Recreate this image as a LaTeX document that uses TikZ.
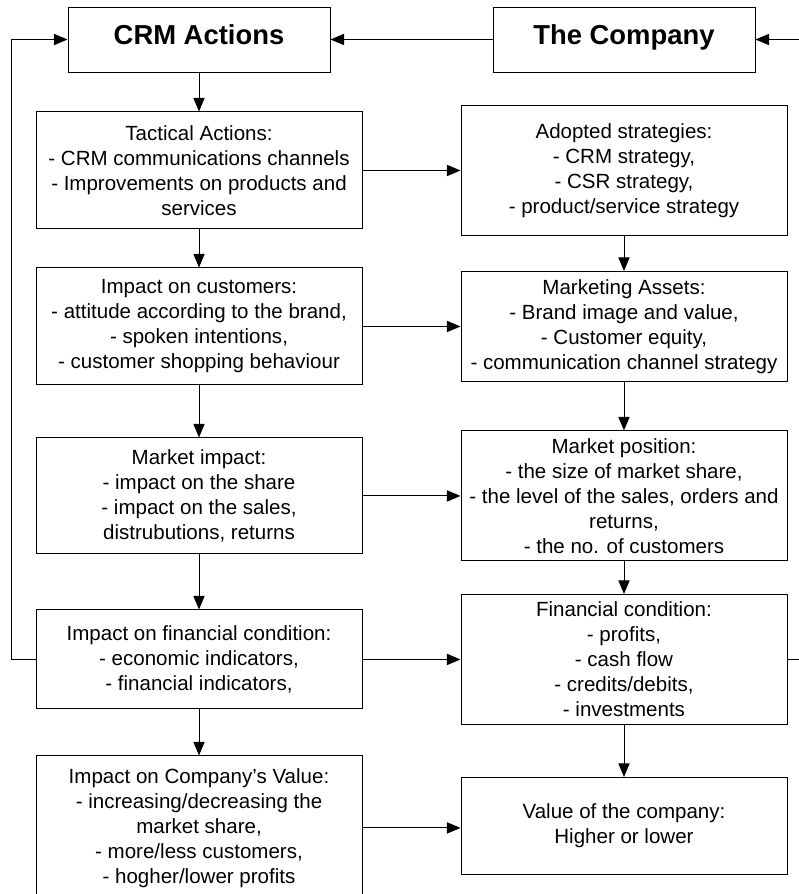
\documentclass[tikz,border=0pt]{standalone}
\usepackage{fontspec}
\setmainfont{Liberation Sans}
\usepackage{tikz}
\usetikzlibrary{positioning,arrows.meta}

\begin{document}
\begin{tikzpicture}[node distance=1cm,
  box/.style={rectangle, draw=black, line width=0.7pt, align=center, minimum width=8.15cm, inner sep=2pt, font=\fontsize{14.6}{17.8}\selectfont},
  head/.style={rectangle, draw=black, line width=0.7pt, minimum width=6.55cm, minimum height=1.625cm, text height=0.8em, text depth=0.1em, font=\fontsize{19.5}{23}\selectfont\bfseries},
  arr/.style={-{Triangle[length=0.34cm,width=0.28cm]}, line width=0.7pt}]
\useasboundingbox (0,0) rectangle (19.95,-22.35);

\node (crm) [head] at (4.975,-0.9875) {CRM Actions};
\node (company) [head, right=4.05cm of crm] {The Company};

% left column
\node (tactical) [box, minimum height=2.925cm, below=0.975cm of crm] {Tactical Actions:\\- CRM communications channels\\- Improvements on products and\\services};
\node (customers) [box, minimum height=2.925cm, below=0.95cm of tactical] {Impact on customers:\\- attitude according to the brand,\\- spoken intentions,\\- customer shopping behaviour};
\node (mktimpact) [box, minimum height=2.9cm, below=1.3cm of customers] {Market impact:\\- impact on the share\\- impact on the sales,\\distrubutions, returns};
\node (finimpact) [box, minimum height=2.475cm, below=1.375cm of mktimpact] {Impact on financial condition:\\- economic indicators,\\- financial indicators,};
\node (valimpact) [box, minimum height=3.6cm, below=1.15cm of finimpact] {Impact on Company’s Value:\\- increasing/decreasing the\\market share,\\- more/less customers,\\- hogher/lower profits};

% right column
\node (strategies) [box, minimum height=3.25cm, right=2.45cm of tactical] {Adopted strategies:\\- CRM strategy,\\- CSR strategy,\\- product/service strategy};
\node (assets) [box, minimum height=2.75cm, right=2.45cm of customers] {Marketing Assets:\\- Brand image and value,\\- Customer equity,\\- communication channel strategy};
\node (position) [box, minimum height=3.25cm, right=2.45cm of mktimpact] {Market position:\\- the size of market share,\\- the level of the sales, orders and\\returns,\\- the no. of customers};
\node (financial) [box, minimum height=3.25cm, right=2.45cm of finimpact] {Financial condition:\\- profits,\\- cash flow\\- credits/debits,\\- investments};
\node (value) [box, minimum height=2.425cm, below=1.3cm of financial] {Value of the company:\\Higher or lower};

\draw[arr] (company) -- (crm);
\draw[arr] (crm) -- (tactical);
\draw[arr] (tactical) -- (customers);
\draw[arr] (customers) -- (mktimpact);
\draw[arr] (mktimpact) -- (finimpact);
\draw[arr] (finimpact) -- (valimpact);

\draw[arr] (strategies) -- (assets);
\draw[arr] (assets) -- (position);
\draw[arr] (position) -- (financial);
\draw[arr] (financial) -- (value);

\draw[arr] (tactical) -- (tactical -| strategies.west);
\draw[arr] (customers) -- (customers -| assets.west);
\draw[arr] (mktimpact) -- (mktimpact -| position.west);
\draw[arr] (finimpact) -- (finimpact -| financial.west);
\draw[arr] (valimpact) -- (valimpact -| value.west);

% feedback loops
\draw[arr] (finimpact.west) -- ++(-0.6,0) |- (crm.west);
\draw[arr] (financial.east) -- ++(0.6,0) |- (company.east);
\end{tikzpicture}
\end{document}
